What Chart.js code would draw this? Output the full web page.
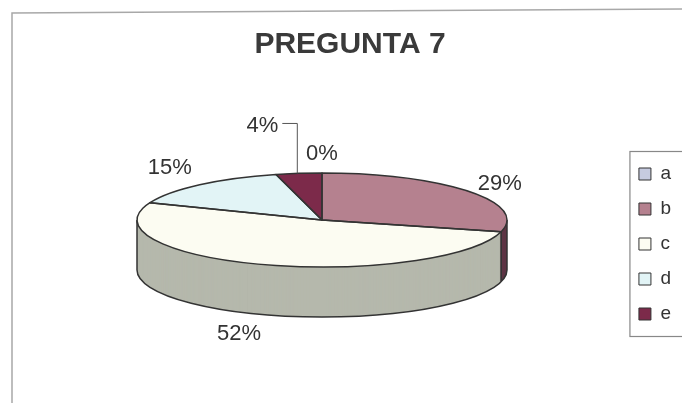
<!DOCTYPE html>
<html>
<head>
<meta charset="utf-8">
<script src="https://cdn.jsdelivr.net/npm/chart.js@4"></script>
<style>html, body { margin: 0; background: #fff; }</style>
</head>
<body>
<canvas id="pregunta7" width="682" height="403"></canvas>
<script>
const categories = ['a', 'b', 'c', 'd', 'e'];
const percentages = [0, 29, 52, 15, 4];
const topColors = ['#c6cbe0', '#b5818f', '#fcfcf2', '#e2f4f6', '#7c2a4a'];
const sideColors = ['#8e93aa', '#5e3444', '#b5b8ac', '#a9bcbe', '#4a1a2e'];

// where the tilted pie sits on the page
const pie = { cx: 322, cy: 220, rx: 185, ry: 47, depth: 50 };
const font = 'Arial, "Liberation Sans", sans-serif';

// squash the library's circle into the ellipse, shifted down by dy
function ellipseMode(ctx, arc, dy) {
  const r = arc.outerRadius;
  ctx.translate(pie.cx, pie.cy + dy);
  ctx.scale(pie.rx / r, pie.ry / r);
  ctx.translate(-arc.x, -arc.y);
}

const pie3d = {
  id: 'pie3d',
  beforeDraw(chart) {
    const ctx = chart.ctx;
    ctx.save();
    ctx.strokeStyle = '#a8a8a8';
    ctx.lineWidth = 1.5;
    ctx.beginPath();
    ctx.moveTo(12, 403);
    ctx.lineTo(12, 13);
    ctx.lineTo(682, 9);
    ctx.stroke();
    ctx.restore();
  },
  beforeDatasetsDraw(chart) {
    const ctx = chart.ctx;
    const arcs = chart.getDatasetMeta(0).data;
    // side wall, layer by layer
    for (let dy = pie.depth; dy > 0; dy--) {
      ctx.save();
      ellipseMode(ctx, arcs[0], dy);
      arcs.forEach((arc, i) => {
        const saved = arc.options;
        arc.options = Object.assign({}, saved, { backgroundColor: sideColors[i], borderWidth: 0 });
        arc.draw(ctx);
        arc.options = saved;
      });
      ctx.restore();
    }
    // outline of the wall
    ctx.save();
    ctx.strokeStyle = '#333';
    ctx.lineWidth = 1.5;
    ctx.beginPath();
    ctx.save();
    ellipseMode(ctx, arcs[0], pie.depth);
    ctx.arc(arcs[0].x, arcs[0].y, arcs[0].outerRadius, 0, Math.PI);
    ctx.restore();
    const edges = [0, Math.PI];
    arcs.forEach(arc => {
      const a = ((arc.startAngle % (2 * Math.PI)) + 2 * Math.PI) % (2 * Math.PI);
      if (a > 0 && a < Math.PI) edges.push(a);
    });
    edges.forEach(a => {
      const x = pie.cx + pie.rx * Math.cos(a);
      const y = pie.cy + pie.ry * Math.sin(a);
      ctx.moveTo(x, y);
      ctx.lineTo(x, y + pie.depth);
    });
    ctx.stroke();
    ctx.restore();
    // top face is drawn by the library under this transform
    ctx.save();
    ellipseMode(ctx, arcs[0], 0);
  },
  afterDatasetsDraw(chart) {
    const ctx = chart.ctx;
    ctx.restore();
    const arcs = chart.getDatasetMeta(0).data;
    ctx.save();
    ctx.strokeStyle = '#333';
    ctx.lineWidth = 1.5;
    ctx.lineJoin = 'round';
    arcs.forEach(arc => {
      if (arc.circumference <= 0) return;
      ctx.beginPath();
      ctx.save();
      ellipseMode(ctx, arc, 0);
      ctx.moveTo(arc.x, arc.y);
      ctx.arc(arc.x, arc.y, arc.outerRadius, arc.startAngle, arc.endAngle);
      ctx.closePath();
      ctx.restore();
      ctx.stroke();
    });

    // percentage labels
    ctx.font = '22px ' + font;
    ctx.fillStyle = '#333';
    ctx.textAlign = 'left';
    ctx.textBaseline = 'middle';
    const h = 15;
    const placed = [];
    arcs.forEach((arc, i) => {
      const mid = (arc.startAngle + arc.endAngle) / 2;
      const c = Math.cos(mid), s = Math.sin(mid);
      const ex = pie.cx + pie.rx * c;
      const ey = pie.cy + pie.ry * s + (s > 0 ? pie.depth : 0);
      const px = ex + 12 * c, py = ey + 12 * s;
      const text = percentages[i] + '%';
      const w = ctx.measureText(text).width;
      let left = c > 0.2 ? px : c < -0.2 ? px - w : px - w / 2;
      let top = s > 0.7 ? py : s < -0.7 ? py - h : py - h / 2;
      const hit = placed.some(b => left < b.left + b.w && left + w > b.left && top < b.top + h && top + h > b.top);
      if (hit) {
        left = px - 19 - w;
        top = py - 36 - h / 2;
        const ly = top + h / 2 - 2;
        ctx.save();
        ctx.lineWidth = 1;
        ctx.strokeStyle = '#555';
        ctx.beginPath();
        ctx.moveTo(left + w + 4, ly);
        ctx.lineTo(px, ly);
        ctx.lineTo(px, ey);
        ctx.stroke();
        ctx.restore();
      }
      placed.push({ left, top, w });
      ctx.fillText(text, left, top + h / 2);
    });
    ctx.restore();
  },
  afterDraw(chart) {
    const ctx = chart.ctx;
    const hb = chart.legend.legendHitBoxes;
    const last = hb[hb.length - 1];
    const x = hb[0].left - 9;
    const y = hb[0].top - 13;
    const bottom = last.top + last.height + 13;
    ctx.save();
    ctx.strokeStyle = '#888';
    ctx.lineWidth = 1.2;
    ctx.strokeRect(x, y, chart.width, bottom - y);
    ctx.restore();
  }
};

new Chart(document.getElementById('pregunta7'), {
  type: 'pie',
  data: {
    labels: categories,
    datasets: [{
      data: percentages,
      backgroundColor: topColors,
      borderWidth: 0,
      clip: false
    }]
  },
  options: {
    responsive: false,
    animation: false,
    events: [],
    layout: { padding: { left: 19, right: 1 } },
    plugins: {
      title: {
        display: true,
        text: 'PREGUNTA 7',
        color: '#3a3a3a',
        font: { family: font, size: 30, weight: 'bold' },
        padding: { top: 27, bottom: 22 }
      },
      legend: {
        position: 'right',
        fullSize: false,
        labels: {
          boxWidth: 12,
          boxHeight: 12,
          padding: 16,
          color: '#333',
          font: { family: font, size: 19 },
          generateLabels(chart) {
            return Chart.overrides.pie.plugins.legend.labels.generateLabels(chart)
              .map(l => Object.assign(l, { strokeStyle: '#333', lineWidth: 1 }));
          }
        }
      },
      tooltip: { enabled: false }
    }
  },
  plugins: [pie3d]
});
</script>
</body>
</html>
